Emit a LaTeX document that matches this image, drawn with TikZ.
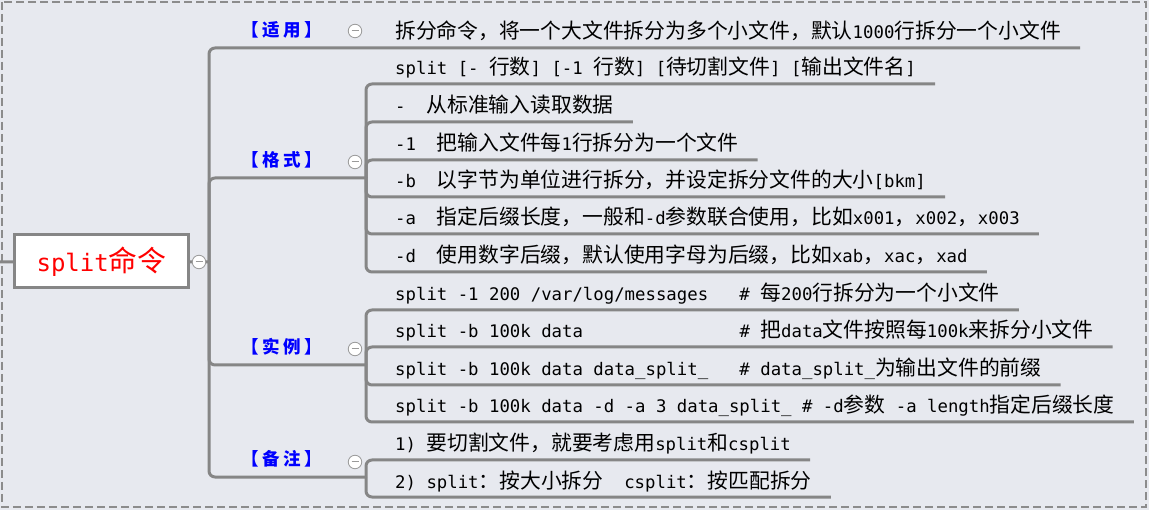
\documentclass[tikz,border=0pt]{standalone}
\usepackage{fontspec}
\setmainfont{DejaVu Sans Mono}
\newfontfamily\cjkfont[Scale=1.2]{Noto Sans CJK SC}
\newfontfamily\latinfont{DejaVu Sans Mono}
% Chinese characters switch to the CJK font by themselves
\XeTeXinterchartokenstate=1
\chardef\cjkclass=10
\count255=32
\loop\XeTeXcharclass\count255=0
\ifnum\count255<126 \advance\count255 by 1 \repeat
\count255="3000
\loop\XeTeXcharclass\count255=\cjkclass
\ifnum\count255<"303F \advance\count255 by 1 \repeat
\count255="4E00
\loop\XeTeXcharclass\count255=\cjkclass
\ifnum\count255<"9FFF \advance\count255 by 1 \repeat
\count255="FF00
\loop\XeTeXcharclass\count255=\cjkclass
\ifnum\count255<"FFEF \advance\count255 by 1 \repeat
\XeTeXinterchartoks 0 \cjkclass = {\cjkfont}
\XeTeXinterchartoks 4095 \cjkclass = {\cjkfont}
\XeTeXinterchartoks \cjkclass 0 = {\latinfont}
\XeTeXinterchartoks \cjkclass 4095 = {\latinfont}
\frenchspacing
\newcommand\tsp{\kern3.5pt}
\definecolor{bgcol}{HTML}{E7E9EF}
\definecolor{linegray}{HTML}{868686}
\definecolor{markgray}{HTML}{9A9A9A}
\definecolor{framegray}{HTML}{8C8C8C}

\begin{document}
\begin{tikzpicture}[x=1pt,y=-1pt,
    branch/.style={draw=linegray, line width=3pt, rounded corners=6pt},
    rootbox/.style={draw=linegray, line width=3pt, fill=white, text=red, inner sep=0pt,
        minimum width=174pt, minimum height=53pt, font=\fontsize{24}{28}\selectfont},
    topic/.style={anchor=base, inner sep=0pt, text=blue, font=\fontsize{14.6}{18}\selectfont\bfseries},
    leaf/.style={anchor=base west, inner sep=0pt, font=\fontsize{17.33}{21}\selectfont},
    foldmark/.style={circle, draw=markgray, fill=white, line width=0.8pt, minimum size=13.5pt, inner sep=0pt,
        path picture={\draw[markgray, line width=1pt] ([xshift=-3.5pt]path picture bounding box.center) -- ([xshift=3.5pt]path picture bounding box.center);}}]
    \useasboundingbox (0,0) rectangle (1149,510);
    \fill[bgcol] (0,0) rectangle (1149,510);
    \draw[framegray, line width=2pt, dash pattern=on 8pt off 4pt] (2,2) rectangle (1146,507);

    % root and joints
    \coordinate (stub) at (0,262);
    \node[rootbox] (root) at (101.5,261.5) {split命令};
    \coordinate (trunk) at (209,262);
    \coordinate (fmtjoin) at (366,178);
    \coordinate (exjoin) at (366,365);
    \coordinate (notejoin) at (366,477);

    % topics
    \node[topic] (use) at (282,36.5) {【\tsp 适\tsp 用\tsp 】};
    \node[topic] (fmt) at (282,166.5) {【\tsp 格\tsp 式\tsp 】};
    \node[topic] (ex) at (282,353.5) {【\tsp 实\tsp 例\tsp 】};
    \node[topic] (note) at (282,465.5) {【\tsp 备\tsp 注\tsp 】};

    % leaves
    \node[leaf] (use1) at (395,39) {拆分命令，将一个大文件拆分为多个小文件，默认1000行拆分一个小文件};
    \node[leaf] (fmt1) at (395,75) {split [- 行数] [-1 行数] [待切割文件] [输出文件名]};
    \node[leaf] (fmt2) at (395,113) {-~~从标准输入读取数据};
    \node[leaf] (fmt3) at (395,151) {-1~~把输入文件每1行拆分为一个文件};
    \node[leaf] (fmt4) at (395,188) {-b~~以字节为单位进行拆分，并设定拆分文件的大小[bkm]};
    \node[leaf] (fmt5) at (395,225) {-a~~指定后缀长度，一般和-d参数联合使用，比如x001，x002，x003};
    \node[leaf] (fmt6) at (395,263) {-d~~使用数字后缀，默认使用字母为后缀，比如xab，xac，xad};
    \node[leaf] (ex1) at (395,301) {split -1 200 /var/log/messages~~~\# 每200行拆分为一个小文件};
    \node[leaf] (ex2) at (395,338) {split -b 100k data~~~~~~~~~~~~~~~\# 把data文件按照每100k来拆分小文件};
    \node[leaf] (ex3) at (395,376) {split -b 100k data data\_split\_~~~\# data\_split\_为输出文件的前缀};
    \node[leaf] (ex4) at (395,413) {split -b 100k data -d -a 3 data\_split\_ \# -d参数 -a length指定后缀长度};
    \node[leaf] (note1) at (395,451) {1) 要切割文件，就要考虑用split和csplit};
    \node[leaf] (note2) at (395,488) {2) split：按大小拆分~~csplit：按匹配拆分};

    % connectors
    \draw[branch] (stub) -- (root);
    \draw[branch] (root) -- (trunk);
    \draw[branch] (trunk) |- ([shift={(19pt,-9pt)}]use1.base east);
    \draw[branch] (trunk) |- (fmtjoin);
    \draw[branch] (trunk) |- (exjoin);
    \draw[branch] (trunk) |- (notejoin);
    \foreach \i in {1,...,6}
        \draw[branch] (fmtjoin) |- ([shift={(19pt,-9pt)}]fmt\i.base east);
    \foreach \i in {1,...,4}
        \draw[branch] (exjoin) |- ([shift={(19pt,-9pt)}]ex\i.base east);
    \foreach \i in {1,2}
        \draw[branch] (notejoin) |- ([shift={(19pt,-9pt)}]note\i.base east);

    % fold marks
    \node[foldmark] (rootfold) at (199,262) {};
    \node[foldmark] (usefold) at (355,31) {};
    \node[foldmark] (fmtfold) at (355,162) {};
    \node[foldmark] (exfold) at (355,349) {};
    \node[foldmark] (notefold) at (355,462) {};
\end{tikzpicture}
\end{document}
